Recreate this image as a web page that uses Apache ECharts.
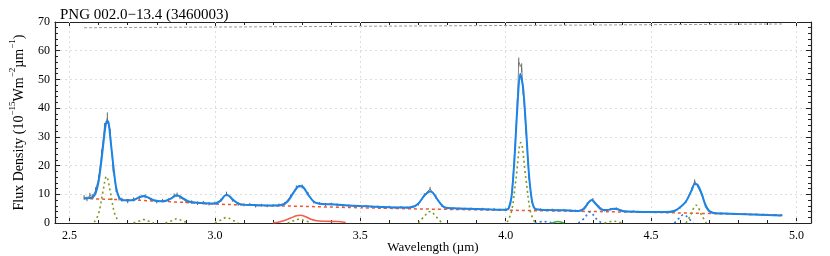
<!DOCTYPE html>
<html><head><meta charset="utf-8">
<script src="https://cdn.jsdelivr.net/npm/echarts@6/dist/echarts.min.js"></script>
<style>html,body{margin:0;padding:0;background:#fff}#c{width:830px;height:256px}</style>
</head><body><div id="c"></div>
<script>
const titleText = 'PNG 002.0\u221213.4 (3460003)';
const xMajorTicks = [2.5, 3.0, 3.5, 4.0, 4.5, 5.0];
const xMinorTicks = [2.5,2.6,2.7,2.8,2.9,3.0,3.1,3.2,3.3,3.4,3.5,3.6,3.7,3.8,3.9,4.0,4.1,4.2,4.3,4.4,4.5,4.6,4.7,4.8,4.9,5.0];

// observed spectrum: [wavelength, flux, error]
const observed = [
[2.55,8.9,0.8],[2.56,8.4,0.8],[2.57,9.6,0.9],[2.58,9.2,0.9],[2.59,11.5,1.0],[2.60,15.5,1.2],[2.61,24,1.5],[2.62,33,1.8],[2.63,36.5,2],[2.64,31,1.8],[2.65,19,1.4],[2.66,11.8,1],[2.67,8.6,0.8],[2.68,8.1,0.7],[2.70,7.6,0.7],[2.72,8.2,0.7],[2.74,8.8,0.7],[2.76,9.3,0.7],[2.78,8.1,0.6],[2.80,7.4,0.6],[2.82,7.8,0.6],[2.84,8.0,0.6],[2.86,9.6,0.7],[2.87,9.9,0.7],[2.88,8.9,0.6],[2.90,7.6,0.6],[2.92,7.3,0.6],[2.94,6.9,0.6],[2.96,7.1,0.6],[2.98,6.7,0.6],[3.00,6.9,0.6],[3.02,7.9,0.6],[3.04,10.2,0.7],[3.06,8.0,0.6],[3.08,6.6,0.6],[3.10,6.3,0.5],[3.12,6.5,0.5],[3.14,5.9,0.5],[3.16,6.2,0.5],[3.18,6.0,0.5],[3.20,6.1,0.5],[3.22,6.3,0.5],[3.24,6.8,0.5],[3.26,9.3,0.6],[3.28,12.4,0.7],[3.30,12.7,0.7],[3.32,10.2,0.6],[3.34,7.3,0.5],[3.36,6.8,0.5],[3.38,6.4,0.5],[3.40,6.6,0.5],[3.42,6.3,0.5],[3.44,6.1,0.5],[3.46,6.0,0.4],[3.48,5.9,0.4],[3.50,5.8,0.4],[3.52,5.9,0.4],[3.54,5.6,0.4],[3.56,5.7,0.4],[3.58,5.5,0.4],[3.60,5.6,0.4],[3.62,5.4,0.4],[3.64,5.5,0.4],[3.66,5.3,0.4],[3.68,5.7,0.4],[3.70,6.6,0.5],[3.72,9.8,0.6],[3.74,11.9,0.7],[3.76,9.0,0.6],[3.78,6.1,0.4],[3.80,5.2,0.4],[3.82,5.1,0.4],[3.84,5.0,0.4],[3.86,4.9,0.4],[3.88,5.0,0.4],[3.90,4.8,0.4],[3.92,4.9,0.4],[3.94,4.7,0.4],[3.96,4.8,0.4],[3.98,4.6,0.4],[4.00,4.7,0.4],[4.01,5.2,0.4],[4.02,9.5,0.6],[4.03,23,1.0],[4.04,42,1.4],[4.045,56,1.6],[4.055,54,1.6],[4.06,46,1.4],[4.07,32,1.1],[4.08,16,0.8],[4.09,7.5,0.5],[4.10,5.0,0.4],[4.12,4.7,0.4],[4.14,4.5,0.4],[4.16,4.6,0.4],[4.18,4.4,0.4],[4.20,4.5,0.4],[4.22,4.3,0.4],[4.24,4.2,0.4],[4.26,4.5,0.4],[4.28,6.6,0.5],[4.30,8.2,0.5],[4.32,5.8,0.4],[4.34,4.4,0.4],[4.36,4.8,0.4],[4.38,5.1,0.4],[4.40,4.3,0.4],[4.42,4.0,0.3],[4.44,4.1,0.3],[4.46,3.8,0.3],[4.48,3.9,0.3],[4.50,3.7,0.3],[4.52,3.8,0.3],[4.54,3.7,0.3],[4.56,3.9,0.3],[4.58,4.3,0.3],[4.60,5.4,0.4],[4.62,7.4,0.5],[4.64,11.8,0.6],[4.65,14.5,0.7],[4.66,13.0,0.6],[4.68,8.2,0.5],[4.70,4.2,0.4],[4.72,3.5,0.3],[4.74,3.4,0.3],[4.76,3.3,0.3],[4.78,3.2,0.3],[4.80,3.1,0.3],[4.82,3.2,0.3],[4.84,2.9,0.3],[4.86,3.0,0.3],[4.88,2.8,0.3],[4.90,2.9,0.3],[4.92,2.7,0.3],[4.94,2.6,0.3],[4.95,2.7,0.3]
];

// total model fit
const model = [
[2.55,8.6],[2.57,8.7],[2.58,9.0],[2.59,10.5],[2.60,14.5],[2.61,22],[2.62,31],[2.625,34.5],[2.63,35.5],[2.635,34.5],[2.64,30],[2.65,20.5],[2.66,12.5],[2.67,9.0],[2.68,8.0],[2.70,7.9],[2.72,8.0],[2.74,9.0],[2.755,9.4],[2.77,8.9],[2.79,7.9],[2.81,7.6],[2.83,7.7],[2.85,8.6],[2.865,9.5],[2.875,9.5],[2.89,8.6],[2.91,7.5],[2.93,7.1],[2.96,6.9],[3.00,6.8],[3.02,7.8],[3.035,9.6],[3.045,9.7],[3.06,8.3],[3.08,6.8],[3.10,6.4],[3.15,6.2],[3.20,6.1],[3.23,6.3],[3.25,7.5],[3.27,10.5],[3.29,12.9],[3.30,12.8],[3.32,10],[3.34,7.4],[3.36,6.7],[3.40,6.5],[3.45,6.2],[3.50,5.9],[3.55,5.7],[3.60,5.5],[3.65,5.4],[3.68,5.6],[3.70,6.8],[3.72,9.5],[3.74,11.0],[3.75,10.5],[3.77,7.5],[3.79,5.4],[3.82,5.1],[3.90,4.9],[3.95,4.7],[4.00,4.6],[4.01,5.0],[4.02,9],[4.03,22],[4.04,40],[4.05,52],[4.06,47],[4.07,33],[4.08,17],[4.09,8],[4.10,5.0],[4.12,4.6],[4.15,4.5],[4.20,4.4],[4.25,4.2],[4.27,5.0],[4.285,7.2],[4.295,8.0],[4.31,6.6],[4.33,4.6],[4.35,4.5],[4.37,5.0],[4.385,4.8],[4.40,4.2],[4.45,3.9],[4.50,3.8],[4.55,3.8],[4.58,4.2],[4.60,5.5],[4.62,7.5],[4.64,11.5],[4.65,13.6],[4.66,13.3],[4.675,10],[4.69,5.5],[4.71,3.6],[4.75,3.3],[4.80,3.1],[4.85,3.0],[4.90,2.8],[4.95,2.6]
];

// continuum
const continuum = [
[2.55,8.5],[2.7,8.1],[2.85,7.4],[3.0,6.6],[3.15,6.1],[3.3,5.8],[3.5,5.3],[3.7,4.9],[3.9,4.6],[4.1,4.3],[4.3,4.0],[4.5,3.7],[4.7,3.3],[4.95,2.8]
];

// atomic line components (olive dotted)
const lineA = [[2.585,0.3],[2.60,3.3],[2.615,11],[2.627,16.2],[2.64,11],[2.655,3.3],[2.67,0.3]];
const lineB = [[2.72,0],[2.74,0.7],[2.755,1.2],[2.77,0.7],[2.79,0]];
const lineC = [[2.83,0],[2.855,0.9],[2.87,1.5],[2.885,0.9],[2.91,0]];
const lineD = [[3.00,0],[3.02,1.0],[3.04,1.9],[3.06,1.0],[3.08,0]];
const lineE = [[3.25,0],[3.27,0.8],[3.29,1.3],[3.31,0.8],[3.33,0]];
const lineF = [[3.70,0],[3.72,2.3],[3.74,4.0],[3.76,2.3],[3.78,0]];
const lineG = [[4.005,0.3],[4.02,4],[4.035,15],[4.052,28],[4.07,15],[4.085,4],[4.10,0.3]];
const lineH = [[4.34,0],[4.355,0.4],[4.37,0.6],[4.385,0.4],[4.40,0]];
const lineI = [[4.62,0],[4.635,2.5],[4.655,6.2],[4.675,2.5],[4.69,0]];

// molecular components (blue dotted)
const molA = [[4.10,0],[4.13,0.5],[4.16,0]];
const molB = [[4.25,0],[4.27,1.6],[4.29,3.9],[4.31,1.6],[4.33,0]];
const molC = [[4.58,0],[4.595,1.5],[4.612,2.9],[4.63,1.5],[4.645,0]];

// PAH feature (red solid) and green feature
const pah = [[3.20,0],[3.23,0.6],[3.26,1.7],[3.28,2.5],[3.295,2.7],[3.31,2.3],[3.33,1.3],[3.35,0.8],[3.38,0.6],[3.42,0.5],[3.45,0.2]];
const greenFeat = [[4.16,0],[4.17,0.35],[4.18,0.5],[4.19,0.35],[4.20,0]];

// upper reference (gray dashed)
const upperRef = [[2.55,68.0],[4.95,69.3]];

const FONT = 'Liberation Serif';
const chart = echarts.init(document.getElementById('c'));
const olive = '#7d9a1e', blueDot = '#2f74e0';
function join(arrs){ const out=[]; arrs.forEach((a,i)=>{ if(i) out.push([null,null]); a.forEach(p=>out.push(p)); }); return out; }

const axisLine = {show:true, lineStyle:{color:'#222', width:1.2}};
const baseX = {type:'value', min:2.45, max:5.05, gridIndex:0};
chart.setOption({
  animation:false,
  title:{text:titleText, left:55, top:3, textStyle:{fontFamily:FONT, fontSize:15, fontWeight:'normal', color:'#000'}},
  grid:{left:55, right:19, top:22, bottom:33, containLabel:false, outerBoundsMode:'none'},
  xAxis:[
    Object.assign({}, baseX, {position:'bottom', axisLine,
      name:'Wavelength (\u00b5m)', nameLocation:'middle', nameGap:18, nameMoveOverlap:false,
      nameTextStyle:{fontFamily:FONT, fontSize:13, color:'#000', verticalAlign:'top'},
      axisTick:{show:true, inside:true, length:5, customValues:xMajorTicks, lineStyle:{color:'#222'}},
      axisLabel:{show:true, customValues:xMajorTicks, fontFamily:FONT, fontSize:12, color:'#000', margin:7, formatter:v=>v.toFixed(1)},
      splitLine:{show:false}}),
    Object.assign({}, baseX, {position:'bottom', axisLine:{show:false},
      axisTick:{show:true, inside:true, length:3, customValues:xMinorTicks, lineStyle:{color:'#222'}},
      axisLabel:{show:false}, splitLine:{show:false}}),
    Object.assign({}, baseX, {position:'top', axisLine,
      axisTick:{show:true, inside:true, length:5, customValues:xMajorTicks, lineStyle:{color:'#222'}},
      axisLabel:{show:false}, splitLine:{show:false}}),
    Object.assign({}, baseX, {position:'top', axisLine:{show:false},
      axisTick:{show:true, inside:true, length:3, customValues:xMinorTicks, lineStyle:{color:'#222'}},
      axisLabel:{show:false}, splitLine:{show:false}})
  ],
  yAxis:[
    {type:'value', min:0, max:70, interval:10, position:'left', axisLine,
      name:'{a|Flux Density (10}{s|\u221215}{a|Wm}{s|\u22122}{a|\u00b5m}{s|\u22121}{a|)}',
      nameLocation:'middle', nameGap:29, nameRotate:90, nameMoveOverlap:false,
      nameTextStyle:{fontFamily:FONT, fontSize:14, color:'#000',
        rich:{a:{fontFamily:FONT, fontSize:14, color:'#000', lineHeight:18, verticalAlign:'bottom'},
              s:{fontFamily:FONT, fontSize:9, color:'#000', lineHeight:11, verticalAlign:'top'}}},
      axisTick:{show:true, inside:true, length:5, lineStyle:{color:'#222'}},
      minorTick:{show:true, splitNumber:5, length:3, lineStyle:{color:'#222'}},
      axisLabel:{fontFamily:FONT, fontSize:12, color:'#000', margin:5},
      splitLine:{show:true, lineStyle:{color:'#ddd', type:[2,3], width:1}}},
    {type:'value', min:0, max:70, interval:10, position:'right', axisLine,
      axisTick:{show:true, inside:true, length:5, lineStyle:{color:'#222'}},
      minorTick:{show:true, splitNumber:5, length:3, lineStyle:{color:'#222'}},
      axisLabel:{show:false}, splitLine:{show:false}}
  ],
  series:[
    {type:'line', data:upperRef, symbol:'none', lineStyle:{color:'#999', width:1, type:[3,2]}, z:2,
      markLine:{silent:true, symbol:'none', label:{show:false}, animation:false,
        lineStyle:{color:'#ddd', type:[2,3], width:1},
        data:xMajorTicks.map(v=>({xAxis:v}))}},
    {type:'custom', data:observed, z:3,
      renderItem:(params, api)=>{
        const x=api.value(0), y=api.value(1), e=api.value(2);
        const p1=api.coord([x,y-e]), p2=api.coord([x,y+e]);
        return {type:'line', shape:{x1:p1[0],y1:p1[1],x2:p2[0],y2:p2[1]}, style:{stroke:'#666', lineWidth:1}};
      }},
    {type:'line', data:observed.map(d=>[d[0],d[1]]), symbol:'none', lineStyle:{color:'#666', width:0.8}, z:3},
    {type:'line', data:continuum, symbol:'none', lineStyle:{color:'#f2552c', width:1.5, type:[3,3]}, z:4},
    {type:'line', data:join([lineA,lineB,lineC,lineD,lineE,lineF,lineG,lineH,lineI]), symbol:'none', connectNulls:false, smooth:0.4, lineStyle:{color:olive, width:1.6, type:[2,3]}, z:5},
    {type:'line', data:join([molA,molB,molC]), symbol:'none', connectNulls:false, smooth:0.4, lineStyle:{color:blueDot, width:1.6, type:[2,3]}, z:5},
    {type:'line', data:pah, symbol:'none', smooth:0.4, lineStyle:{color:'#f0604e', width:1.6}, z:5},
    {type:'line', data:greenFeat, symbol:'none', smooth:0.4, lineStyle:{color:'#3cb043', width:1.6}, z:5},
    {type:'line', data:model, symbol:'none', smooth:0.3, lineStyle:{color:'#1a84e8', width:2}, z:6}
  ]
});
</script></body></html>
